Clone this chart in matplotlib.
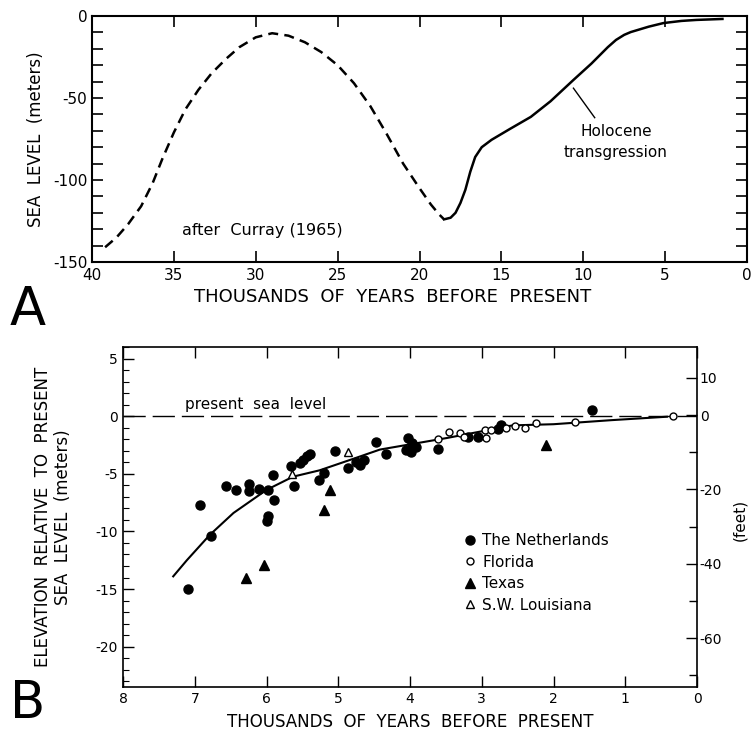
import numpy as np
import matplotlib
matplotlib.use("Agg")
import matplotlib.pyplot as plt
from matplotlib.ticker import MultipleLocator, FixedLocator

# ---------------- Panel A data (thousands of years BP, metres) ----------------
a_dash_age = [39.2, 38.5, 37.8, 37.0, 36.3, 35.7, 35.0, 34.3, 33.5, 32.7, 31.8, 31.0,
              30.0, 29.0, 28.0, 27.0, 26.0, 25.0, 24.0, 23.0, 22.0, 21.0, 20.0, 19.3,
              18.8, 18.5]
a_dash_lvl = [-141, -135, -127, -116, -102, -87, -71, -57, -45, -35, -26, -19,
              -13, -10.5, -12, -16, -22, -30, -41, -55, -72, -90, -105, -115,
              -121, -124]
a_solid_age = [18.5, 18.1, 17.8, 17.5, 17.2, 16.9, 16.6, 16.2, 15.6, 14.5, 13.2, 12.0,
               10.6, 9.5, 8.5, 8.0, 7.5, 7.1, 6.0, 5.1, 4.0, 3.1, 1.5]
a_solid_lvl = [-124, -123, -120, -114, -106, -95, -86, -80, -75.5, -69, -61.5, -52,
               -39, -29, -19, -14.6, -11.5, -9.8, -6.5, -4.3, -3.0, -2.4, -1.8]

# ---------------- Panel B data ----------------
nl_age = [7.09, 6.92, 6.77, 6.57, 6.42, 6.25, 6.25, 6.11, 5.98, 5.91, 5.90, 5.98, 5.99,
          5.66, 5.62, 5.53, 5.49, 5.44, 5.39, 5.04, 5.20, 5.27, 4.86, 4.75, 4.70, 4.64,
          4.48, 4.34, 4.03, 4.05, 3.98, 3.91, 3.97, 3.61, 3.19, 3.05, 2.77, 2.73, 1.46]
nl_elev = [-15.0, -7.7, -10.4, -6.1, -6.4, -5.9, -6.5, -6.3, -6.4, -5.1, -7.3, -8.7, -9.1,
           -4.3, -6.1, -4.1, -3.8, -3.5, -3.3, -3.0, -4.9, -5.5, -4.5, -4.0, -4.2, -3.8,
           -2.2, -3.3, -1.9, -2.9, -3.1, -2.65, -2.3, -2.85, -1.85, -1.8, -1.1, -0.8, 0.5]
fl_age = [3.61, 3.45, 3.30, 3.25, 2.96, 2.94, 2.87, 2.66, 2.54, 2.40, 2.24, 1.70, 0.34]
fl_elev = [-2.0, -1.4, -1.5, -1.85, -1.2, -1.9, -1.2, -1.0, -0.85, -1.0, -0.6, -0.5, 0.0]
tx_age = [6.29, 6.04, 5.20, 5.11, 2.10]
tx_elev = [-14.0, -12.95, -8.1, -6.4, -2.5]
la_age = [5.64, 4.86]
la_elev = [-5.0, -3.1]
fit_age = [7.30, 7.11, 6.79, 6.46, 6.00, 5.63, 5.26, 4.79, 4.42, 3.49, 2.57, 2.00, 1.20, 0.42]
fit_elev = [-13.9, -12.5, -10.3, -8.4, -6.4, -5.25, -4.7, -3.7, -2.9, -1.9, -0.8, -0.7, -0.35, -0.05]

W, H = 753, 731
plt.rcParams['font.family'] = ['DejaVu Sans']
plt.rcParams['axes.unicode_minus'] = False
fig = plt.figure(figsize=(W / 100, H / 100), dpi=100)

def fx(px):
    return px / W

def fy(py):
    return 1 - py / H

# ---------------- Panel A ----------------
axA = fig.add_axes([fx(92), fy(262), (747 - 92) / W, (262 - 16) / H])
axA.plot(a_dash_age, a_dash_lvl, color='black', lw=1.8, dashes=(4, 2.5))
axA.plot(a_solid_age, a_solid_lvl, color='black', lw=1.8)
axA.set_xlim(40, 0)
axA.set_ylim(-150, 0)
axA.xaxis.set_major_locator(MultipleLocator(5))
axA.yaxis.set_major_locator(MultipleLocator(50))
axA.yaxis.set_minor_locator(MultipleLocator(10))
axA.tick_params(axis='both', which='both', direction='in', length=8, width=1.2,
                top=True, right=True, labelsize=11)
axA.tick_params(axis='x', which='minor', top=False, bottom=False)
axA.tick_params(axis='x', pad=4)
for s in axA.spines.values():
    s.set_linewidth(1.5)
axA.text(29.6, -131, 'after  Curray (1965)', ha='center', va='center', fontsize=11.5)
axA.text(8.0, -77, 'Holocene\ntransgression', ha='center', va='center', fontsize=11,
         linespacing=1.5)
axA.plot([10.6, 9.3], [-44, -62], color='black', lw=1)

fig.text(fx(36), fy(139), 'SEA  LEVEL  (meters)', rotation=90, ha='center', va='center',
         fontsize=12)
fig.text(fx(393), fy(297), 'THOUSANDS  OF  YEARS  BEFORE  PRESENT', ha='center',
         va='center', fontsize=13)
fig.text(fx(10), fy(325), 'A', fontsize=38, ha='left', va='baseline')

# ---------------- Panel B ----------------
axB = fig.add_axes([fx(123), fy(687), (697 - 123) / W, (687 - 347) / H])
axB.axhline(0, color='black', lw=1.0, dashes=(16, 5))
axB.plot(fit_age, fit_elev, color='black', lw=1.5)
axB.plot(nl_age, nl_elev, 'o', color='black', ms=6.5, ls='none', label='The Netherlands')
axB.plot(fl_age, fl_elev, 'o', mfc='white', mec='black', mew=1.0, ms=5, ls='none',
         label='Florida')
axB.plot(tx_age, tx_elev, '^', color='black', ms=6.5, ls='none', label='Texas')
axB.plot(la_age, la_elev, '^', mfc='white', mec='black', mew=1.0, ms=5.5, ls='none',
         label='S.W. Louisiana')
axB.set_xlim(8, 0)
axB.set_ylim(-23.5, 6)
axB.xaxis.set_major_locator(MultipleLocator(1))
axB.yaxis.set_major_locator(FixedLocator([5, 0, -5, -10, -15, -20]))
axB.yaxis.set_minor_locator(MultipleLocator(1))
axB.tick_params(axis='both', which='major', direction='in', length=8, width=1.0,
                top=True, labelsize=10)
axB.tick_params(axis='y', which='minor', direction='in', length=4, width=0.8)
for s in axB.spines.values():
    s.set_linewidth(1.2)
axB.text(6.15, 0.35, 'present  sea  level', ha='center', va='bottom', fontsize=11)
leg = axB.legend(loc='upper left', bbox_to_anchor=(0.597, 0.452), frameon=False,
                 fontsize=11, handlelength=0.6, handletextpad=0.5, labelspacing=0.42,
                 borderpad=0, borderaxespad=0)

axF = axB.twinx()
axF.set_ylim(-73.1, 18.3)
axF.yaxis.set_major_locator(FixedLocator([10, 0, -20, -40, -60]))
axF.yaxis.set_minor_locator(FixedLocator([-10, -30, -50, -70]))
axF.tick_params(axis='y', which='major', direction='in', length=8, width=1.0, labelsize=10,
                pad=2)
axF.tick_params(axis='y', which='minor', direction='in', length=6, width=1.0)
for s in axF.spines.values():
    s.set_visible(False)

fig.text(fx(43), fy(517), 'ELEVATION  RELATIVE  TO  PRESENT', rotation=90, ha='center',
         va='center', fontsize=12)
fig.text(fx(63), fy(517), 'SEA  LEVEL  (meters)', rotation=90, ha='center',
         va='center', fontsize=12)
fig.text(fx(740), fy(520), '(feet)', rotation=90, ha='center', va='center', fontsize=11)
fig.text(fx(410), fy(722), 'THOUSANDS  OF  YEARS  BEFORE  PRESENT', ha='center',
         va='center', fontsize=12)
fig.text(fx(10), fy(729), 'B', fontsize=37, ha='left', va='bottom')

fig.savefig('out.png', dpi=100)
